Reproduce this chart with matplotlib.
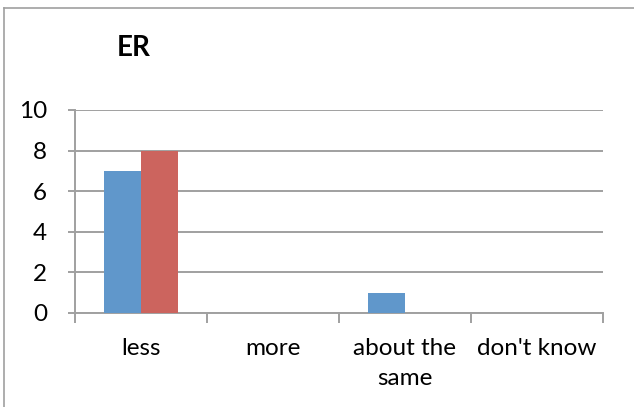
import numpy as np
import matplotlib.pyplot as plt
from matplotlib.lines import Line2D

categories = ["less", "more", "about the\nsame", "don't know"]
series_a = [7, 0, 1, 0]
series_b = [8, 0, 0, 0]
yticks = [0, 2, 4, 6, 8, 10]

plt.rcParams['font.family'] = ['Lato', 'DejaVu Sans']

fig = plt.figure(figsize=(6.34, 4.07), dpi=100)
ax = fig.add_axes([0.1183, 0.2310, 0.8328, 0.4988])

x = np.arange(len(categories))
w = 0.284
ax.bar(x - w / 2, series_a, w, color="#6097CB", zorder=3)
ax.bar(x + w / 2, series_b, w, color="#CC645E", zorder=3)

ax.set_xlim(-0.5, len(categories) - 0.5)
ax.set_ylim(0, 10)
ax.set_yticks(yticks)
ax.yaxis.grid(True, color="#A0A0A0", linewidth=1.4, zorder=0)

ax.set_xticks(x)
ax.set_xticklabels(categories, fontsize=17.5, linespacing=1.55)
ax.set_xticks(np.arange(len(categories) + 1) - 0.5, minor=True)
ax.tick_params(axis="x", which="major", length=0, pad=18)
ax.tick_params(axis="x", which="minor", length=7, width=1.4, color="#A0A0A0")
ax.tick_params(axis="y", length=5, width=1.4, color="#A0A0A0", labelsize=17.5, pad=15)

for side in ["top", "right"]:
    ax.spines[side].set_visible(False)
for side in ["left", "bottom"]:
    ax.spines[side].set_color("#A0A0A0")
    ax.spines[side].set_linewidth(1.4)

fig.text(0.184, 0.883, "ER", fontsize=20, fontweight="bold", ha="left", va="center")

# outer chart border (only left and top visible in the crop)
fig.add_artist(Line2D([0.0065, 0.0065], [0, 0.981], color="#A0A0A0", linewidth=1.2))
fig.add_artist(Line2D([0.0065, 1.0], [0.981, 0.981], color="#A0A0A0", linewidth=1.2))

fig.savefig("out.png", dpi=100)
